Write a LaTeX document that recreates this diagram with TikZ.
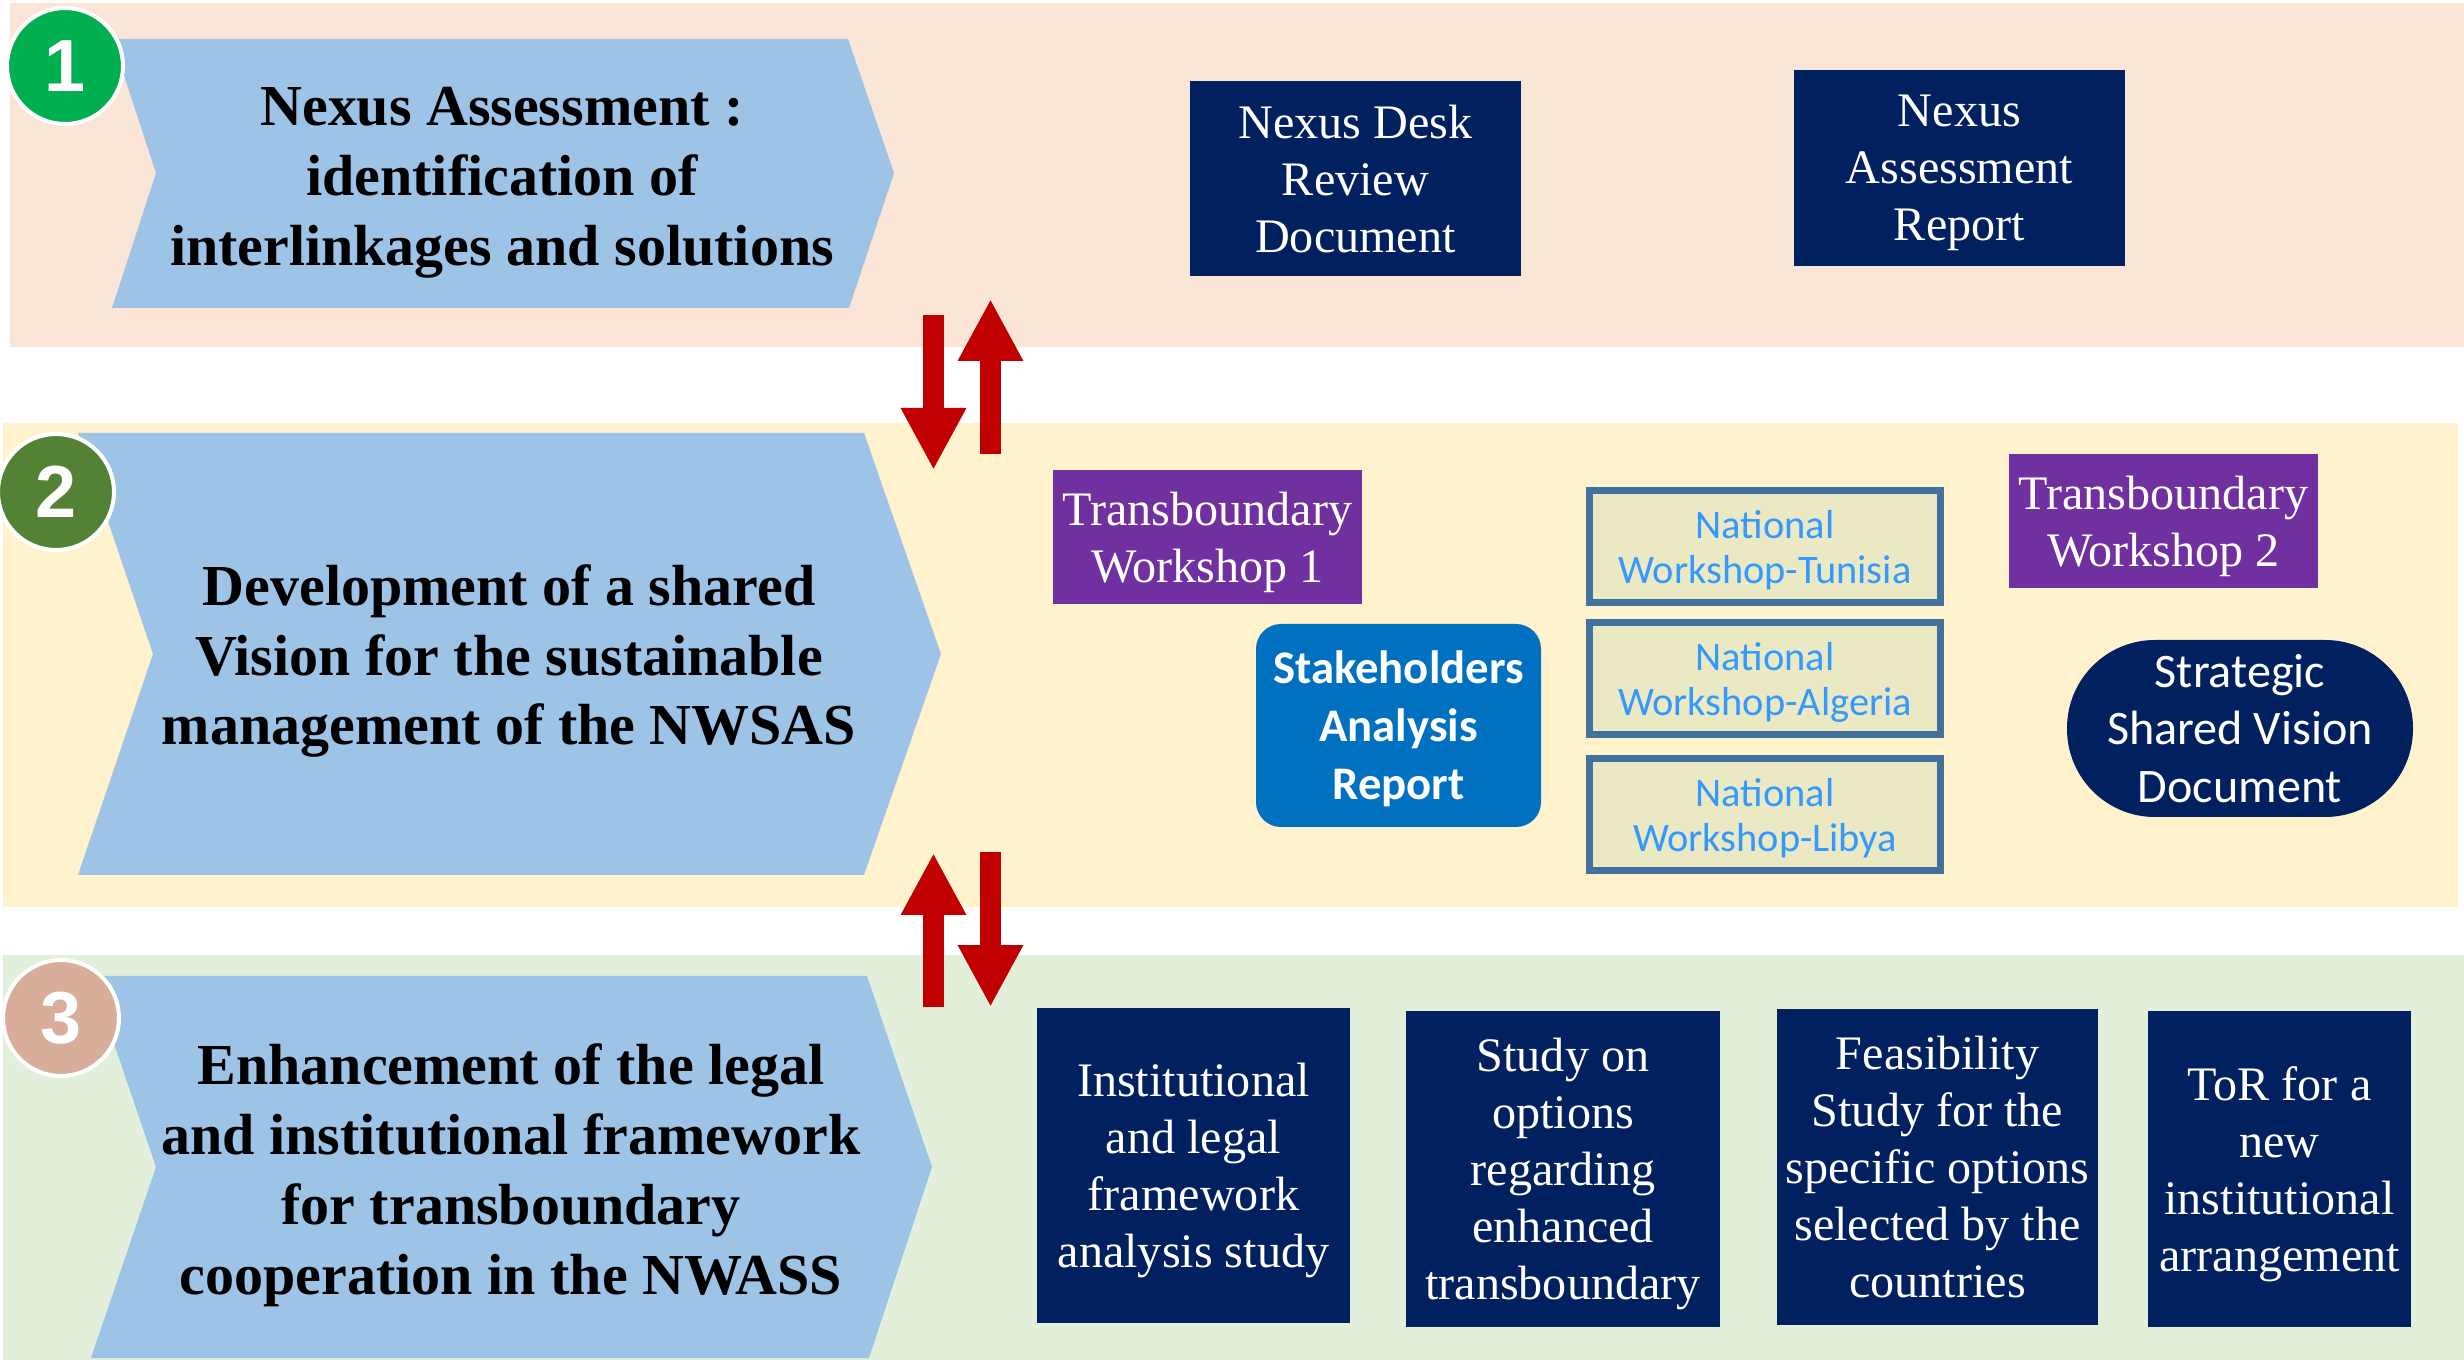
\documentclass[tikz,border=0pt]{standalone}
\usepackage{fontspec}
\setmainfont{Liberation Serif}
\newfontfamily\calibri{Carlito}
\newfontfamily\arialfont{Liberation Sans}
\usetikzlibrary{arrows.meta}

\definecolor{bandone}{HTML}{FBE5D6}
\definecolor{bandtwo}{HTML}{FFF2CC}
\definecolor{bandthree}{HTML}{E2EFDA}
\definecolor{chevblue}{HTML}{9DC3E6}
\definecolor{navy}{HTML}{002060}
\definecolor{wspurple}{HTML}{7030A0}
\definecolor{stakeblue}{HTML}{0070C0}
\definecolor{natfill}{HTML}{EBE9C4}
\definecolor{natline}{HTML}{41719C}
\definecolor{nattext}{HTML}{3399FF}
\definecolor{arrowred}{HTML}{C00000}
\definecolor{numone}{HTML}{00B050}
\definecolor{numtwo}{HTML}{548235}
\definecolor{numthree}{HTML}{D8AE9A}

\begin{document}
\begin{tikzpicture}[x=1cm, y=-1cm,
    chevtext/.style={font=\bfseries\fontsize{16.5}{19.9}\selectfont, align=center, inner sep=0pt},
    numcircle/.style={circle, draw=white, line width=0.4mm, minimum size=11.6mm, inner sep=0pt,
        text=white, font=\arialfont\bfseries\fontsize{21}{21}\selectfont},
    navybox/.style={fill=navy, text=white, align=center, inner sep=0pt, text depth=0pt,
        font=\fontsize{13.7}{16.2}\selectfont},
    purplebox/.style={navybox, fill=wspurple},
    natbox/.style={draw=natline, line width=0.7mm, fill=natfill, text=nattext, align=center,
        minimum width=3.51cm, minimum height=1.12cm, inner sep=0pt, text depth=0pt,
        font=\calibri\fontsize{11.5}{12.8}\selectfont},
    redarrow/.style={draw=arrowred, line width=2.1mm, -{Triangle[length=6.2mm, width=6.1mm]}}
]
    \useasboundingbox (0,0) rectangle (24.64,13.6);

    % Bands
    \fill[bandone] (0.10,0.03) rectangle (24.64,3.47);
    \fill[bandtwo] (0.03,4.23) rectangle (24.58,9.07);
    \fill[bandthree] (0.03,9.55) rectangle (24.64,13.60);

    % Chevrons
    \fill[chevblue] (1.12,0.39) -- (8.48,0.39) -- (8.94,1.73) -- (8.49,3.08) -- (1.12,3.08) -- (1.56,1.73) -- cycle;
    \fill[chevblue] (0.78,4.33) -- (8.64,4.33) -- (9.41,6.54) -- (8.64,8.75) -- (0.78,8.75) -- (1.53,6.54) -- cycle;
    \fill[chevblue] (0.91,9.76) -- (8.67,9.76) -- (9.32,11.67) -- (8.69,13.58) -- (0.91,13.58) -- (1.56,11.67) -- cycle;

    \node[chevtext] (phase1) at (5.02,1.83) {Nexus Assessment :\\identification of\\interlinkages and solutions};
    \node[chevtext] (phase2) at (5.09,6.61) {Development of a shared\\Vision for the sustainable\\management of the NWSAS};
    \node[chevtext] (phase3) at (5.11,11.75) {Enhancement of the legal\\and institutional framework\\for transboundary\\cooperation in the NWASS};

    % Numbers
    \node[numcircle, fill=numone] (num1) at (0.65,0.66) {1};
    \node[numcircle, fill=numtwo] (num2) at (0.56,4.92) {2};
    \node[numcircle, fill=numthree] (num3) at (0.61,10.18) {3};

    % Phase 1 outputs
    \node[navybox, minimum width=3.31cm, minimum height=1.95cm] (desk) at (13.555,1.785) {Nexus Desk\\Review\\Document};
    \node[navybox, minimum width=3.31cm, minimum height=1.96cm] (assess) at (19.595,1.68) {Nexus\\Assessment\\Report};

    % Phase 2 outputs
    \node[purplebox, minimum width=3.09cm, minimum height=1.34cm] (tw1) at (12.075,5.37) {Transboundary\\Workshop 1};
    \node[purplebox, minimum width=3.09cm, minimum height=1.34cm] (tw2) at (21.635,5.21) {Transboundary\\Workshop 2};
    \node[fill=stakeblue, rounded corners=2.5mm, text=white, align=center, inner sep=0pt, text depth=0pt,
        minimum width=2.85cm, minimum height=2.03cm,
        font=\calibri\bfseries\fontsize{13.3}{16.5}\selectfont] (stake) at (13.985,7.255) {Stakeholders\\Analysis\\Report};
    \node[natbox] (tunisia) at (17.65,5.465) {National\\Workshop-Tunisia};
    \node[natbox] (algeria) at (17.65,6.785) {National\\Workshop-Algeria};
    \node[natbox] (libya) at (17.65,8.15) {National\\Workshop-Libya};
    \node[fill=navy, rounded corners=8.8mm, text=white, align=center, inner sep=0pt,
        minimum width=3.46cm, minimum height=1.77cm,
        font=\calibri\fontsize{13.7}{16.3}\selectfont] (vision) at (22.40,7.285) {Strategic\\Shared Vision\\Document};

    % Phase 3 outputs
    \node[navybox, minimum width=3.13cm, minimum height=3.15cm] (inst) at (11.935,11.655) {Institutional\\and legal\\framework\\analysis study};
    \node[navybox, minimum width=3.14cm, minimum height=3.16cm] (study) at (15.63,11.69) {Study on\\options\\regarding\\enhanced\\transboundary};
    \node[navybox, minimum width=3.21cm, minimum height=3.16cm] (feas) at (19.375,11.67) {Feasibility\\Study for the\\specific options\\selected by the\\countries};
    \node[navybox, minimum width=2.63cm, minimum height=3.16cm] (tor) at (22.795,11.69) {ToR for a\\new\\institutional\\arrangement};

    % Arrows between phases
    \coordinate (dn1s) at (9.335,3.15);
    \coordinate (dn1e) at (9.335,4.70);
    \coordinate (up1s) at (9.905,4.54);
    \coordinate (up1e) at (9.905,2.99);
    \coordinate (up2s) at (9.335,10.07);
    \coordinate (up2e) at (9.335,8.53);
    \coordinate (dn2s) at (9.905,8.52);
    \coordinate (dn2e) at (9.905,10.07);
    \draw[redarrow] (dn1s) -- (dn1e);
    \draw[redarrow] (up1s) -- (up1e);
    \draw[redarrow] (up2s) -- (up2e);
    \draw[redarrow] (dn2s) -- (dn2e);
\end{tikzpicture}
\end{document}
